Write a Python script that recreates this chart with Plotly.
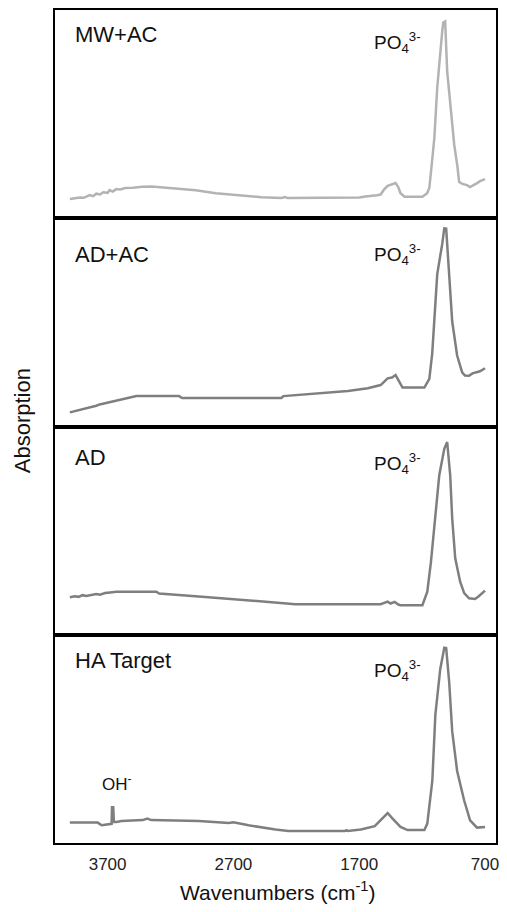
import plotly.graph_objects as go
from plotly.subplots import make_subplots

# ---- data (wavenumber cm^-1, relative absorption as fraction of panel height) ----
panel_names = ["MW+AC", "AD+AC", "AD", "HA Target"]
tick_vals = [3700, 2700, 1700, 700]

mwac_wn = [4000, 3950, 3920, 3890, 3860, 3842, 3815, 3790, 3760, 3735, 3700, 3684, 3660, 3630, 3600,
           3560, 3500, 3424, 3350, 3250, 3155, 3000, 2840, 2650, 2477, 2319, 2290, 2270, 2000, 1735,
           1700, 1650, 1600, 1560, 1530, 1500, 1474, 1440, 1411, 1390, 1372, 1340, 1198, 1160, 1143,
           1125, 1103, 1080, 1056, 1040, 1032, 1017, 1001, 977, 945, 920, 906, 880, 843, 820, 800,
           788, 760, 740, 700]
mwac_ab = [0.092, 0.096, 0.100, 0.098, 0.108, 0.111, 0.106, 0.118, 0.114, 0.125, 0.122, 0.135, 0.128,
           0.140, 0.138, 0.145, 0.146, 0.151, 0.152, 0.148, 0.143, 0.135, 0.120, 0.110, 0.101, 0.097,
           0.102, 0.097, 0.097, 0.097, 0.100, 0.104, 0.106, 0.110, 0.114, 0.140, 0.156, 0.162, 0.169,
           0.150, 0.120, 0.103, 0.103, 0.120, 0.145, 0.250, 0.386, 0.628, 0.820, 0.900, 0.940, 0.945,
           0.705, 0.546, 0.353, 0.250, 0.174, 0.165, 0.159, 0.150, 0.155, 0.160, 0.170, 0.178, 0.188]

adac_wn = [4000, 3950, 3900, 3850, 3790, 3763, 3720, 3680, 3640, 3600, 3560, 3520, 3471, 3300, 3132,
           3108, 2319, 2303, 2050, 1790, 1632, 1530, 1474, 1440, 1411, 1380, 1356, 1182, 1143, 1120,
           1103, 1080, 1040, 1024, 1009, 985, 961, 922, 882, 860, 827, 800, 764, 740, 700]
adac_ab = [0.068, 0.075, 0.085, 0.090, 0.100, 0.106, 0.112, 0.118, 0.122, 0.128, 0.135, 0.140, 0.146,
           0.146, 0.146, 0.137, 0.137, 0.146, 0.158, 0.171, 0.184, 0.199, 0.231, 0.235, 0.247, 0.211,
           0.187, 0.187, 0.229, 0.350, 0.537, 0.732, 0.878, 0.951, 0.950, 0.699, 0.504, 0.341, 0.260,
           0.245, 0.244, 0.255, 0.260, 0.265, 0.280]

ad_wn = [4000, 3960, 3930, 3900, 3870, 3818, 3790, 3760, 3720, 3680, 3629, 3313, 3290, 2950, 2713,
         2500, 2208, 1530, 1500, 1474, 1450, 1419, 1390, 1372, 1198, 1159, 1130, 1103, 1064, 1024,
         1001, 977, 961, 937, 898, 866, 827, 780, 750, 700]
ad_ab = [0.180, 0.185, 0.182, 0.190, 0.186, 0.191, 0.195, 0.192, 0.200, 0.203, 0.207, 0.207, 0.198,
         0.183, 0.172, 0.159, 0.147, 0.147, 0.153, 0.159, 0.150, 0.158, 0.145, 0.142, 0.142, 0.207,
         0.350, 0.526, 0.766, 0.893, 0.925, 0.766, 0.558, 0.367, 0.255, 0.200, 0.175, 0.172, 0.185,
         0.212]

ha_wn = [4000, 3779, 3747, 3680, 3668, 3665, 3655, 3650, 3629, 3590, 3420, 3384, 3353, 2974, 2737,
         2700, 2658, 2579, 2366, 2264, 1814, 1800, 1790, 1687, 1577, 1530, 1474, 1435, 1372, 1316,
         1182, 1159, 1119, 1095, 1056, 1024, 1009, 985, 961, 922, 866, 819, 764, 700]
ha_ab = [0.098, 0.098, 0.085, 0.090, 0.092, 0.172, 0.172, 0.101, 0.101, 0.106, 0.110, 0.117, 0.110,
         0.106, 0.096, 0.100, 0.094, 0.085, 0.065, 0.058, 0.058, 0.062, 0.058, 0.065, 0.081, 0.109,
         0.144, 0.117, 0.077, 0.062, 0.062, 0.093, 0.299, 0.615, 0.836, 0.938, 0.936, 0.773, 0.536,
         0.346, 0.204, 0.109, 0.074, 0.077]

series = [(mwac_wn, mwac_ab), (adac_wn, adac_ab), (ad_wn, ad_ab), (ha_wn, ha_ab)]
colors = ["#b3b3b3", "#7f7f7f", "#7f7f7f", "#7f7f7f"]

FONT = "Liberation Sans, Arial, sans-serif"

fig = make_subplots(rows=4, cols=1, shared_xaxes=True, vertical_spacing=0)

for i, (wn, ab) in enumerate(series):
    fig.add_trace(go.Scatter(x=wn, y=ab, mode="lines",
                             line=dict(color=colors[i], width=2.5),
                             showlegend=False, hoverinfo="skip"), row=i + 1, col=1)

for i in range(4):
    fig.update_xaxes(range=[4118, 613], showline=True, mirror=True, linecolor="black",
                     linewidth=1.5, showgrid=False, zeroline=False,
                     tickvals=tick_vals, ticks="outside", ticklen=5,
                     tickcolor="rgba(0,0,0,0)",
                     showticklabels=(i == 3), ticklabeloverflow="allow",
                     tickfont=dict(family=FONT, size=17, color="#222"),
                     row=i + 1, col=1)
    fig.update_yaxes(range=[0, 1], showline=True, mirror=True, linecolor="black",
                     linewidth=1.5, showgrid=False, zeroline=False, showticklabels=False,
                     ticks="", row=i + 1, col=1)

# panel labels
label_y = [0.9705, 0.7070, 0.4630, 0.2185]
po4_y = [0.961, 0.706, 0.456, 0.207]
for i, name in enumerate(panel_names):
    fig.add_annotation(text=name, xref="paper", yref="paper", x=0.0405, y=label_y[i],
                       xanchor="left", yanchor="middle", showarrow=False,
                       font=dict(family=FONT, size=22, color="#111"))
    fig.add_annotation(text="PO<sub>4</sub><sup>3-</sup>", xref="paper", yref="paper",
                       x=0.719, y=po4_y[i], xanchor="left", yanchor="middle", showarrow=False,
                       font=dict(family=FONT, size=19, color="#111"))

fig.add_annotation(text="OH<sup>-</sup>", xref="paper", yref="paper", x=0.101, y=0.0725,
                   xanchor="left", yanchor="middle", showarrow=False,
                   font=dict(family=FONT, size=17, color="#111"))

fig.add_annotation(text="Absorption", xref="paper", yref="paper", x=-0.0743, y=0.5066,
                   xanchor="center", yanchor="middle", textangle=-90, showarrow=False,
                   font=dict(family=FONT, size=22, color="#111"))

fig.add_annotation(text="Wavenumbers (cm<sup>-1</sup>)", xref="paper", yref="paper",
                   x=0.5068, y=-0.0575, xanchor="center", yanchor="middle", showarrow=False,
                   font=dict(family=FONT, size=21, color="#111"))

fig.update_layout(width=491, height=896, margin=dict(l=47, r=0, t=0, b=61),
                  paper_bgcolor="white", plot_bgcolor="white")

fig.write_html("out.html")
